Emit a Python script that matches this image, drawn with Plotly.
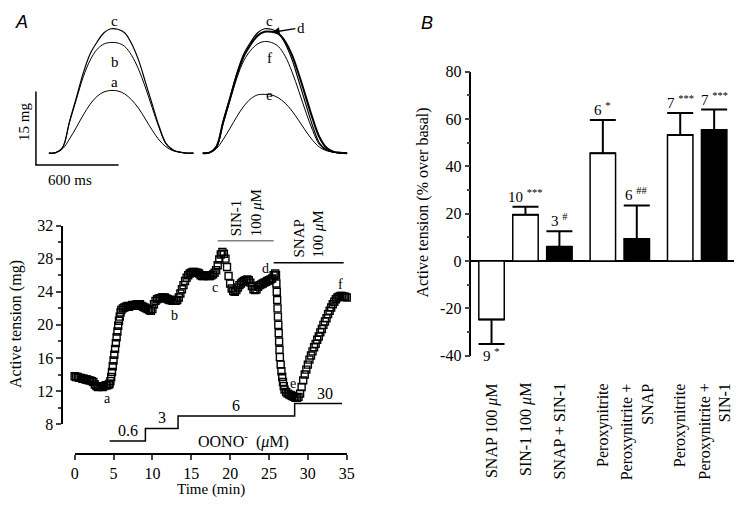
import plotly.graph_objects as go

# The page adds an 8 px body margin; the figure is sized so the whole page is 750x512.
PAGE_W, PAGE_H, OFF = 750, 512, 8
W, H = PAGE_W - 2 * OFF, PAGE_H - 2 * OFF
SERIF = "Liberation Serif"

# ---------------- data: panel A, time course ----------------
time_min = [0.0, 0.2, 0.4, 0.6, 0.8, 1.0, 1.2, 1.4, 1.6, 1.8, 2.0, 2.2, 2.4, 2.6, 2.8, 3.0, 3.2, 3.4, 3.6, 3.8,
            4.0, 4.2, 4.4,
            4.5, 4.6, 4.7, 4.8, 4.9, 5.0, 5.1, 5.2, 5.3, 5.4, 5.5, 5.6, 5.7, 5.8, 5.9, 6.0,
            6.2, 6.4, 6.6, 6.8, 7.0, 7.2, 7.4, 7.6, 7.8, 8.0, 8.2, 8.4, 8.6, 8.8, 9.0, 9.2, 9.4, 9.6, 9.8,
            10.0, 10.2, 10.4, 10.6, 10.8, 11.0, 11.2, 11.4, 11.6, 11.8, 12.0, 12.2, 12.4, 12.6, 12.8,
            13.0, 13.2, 13.4, 13.6, 13.8, 14.0, 14.2, 14.4, 14.6, 14.8, 15.0, 15.2, 15.4, 15.6, 15.8,
            16.0, 16.2, 16.4, 16.6, 16.8, 17.0, 17.2, 17.4, 17.6, 17.8, 18.0, 18.2, 18.4, 18.6, 18.8,
            19.0, 19.2, 19.4, 19.6, 19.8, 20.0, 20.2, 20.4, 20.6, 20.8, 21.0, 21.2, 21.4, 21.6, 21.8,
            22.0, 22.2, 22.4, 22.6, 22.8, 23.0, 23.2, 23.4, 23.6, 23.8, 24.0, 24.2, 24.4, 24.6, 24.8,
            25.0, 25.2, 25.4, 25.6, 25.8,
            25.9, 25.95, 26.0, 26.05, 26.1, 26.15, 26.2, 26.25, 26.3, 26.35, 26.4, 26.5, 26.6, 26.7,
            26.8, 26.9, 27.0,
            27.2, 27.4, 27.6, 27.8, 28.0, 28.2, 28.4, 28.6, 28.8, 29.0, 29.2, 29.4, 29.6, 29.8,
            30.0, 30.2, 30.4, 30.6, 30.8, 31.0, 31.2, 31.4, 31.6, 31.8, 32.0, 32.2, 32.4, 32.6, 32.8,
            33.0, 33.2, 33.4, 33.6, 33.8, 34.0, 34.2, 34.4, 34.6, 34.8, 35.0]
tension_mg = [13.8, 13.7, 13.7, 13.6, 13.6, 13.5, 13.5, 13.4, 13.4, 13.3, 13.3, 13.2, 13.1, 12.8, 12.6, 12.5,
              12.6, 12.6, 12.5, 12.6, 12.7, 12.7, 12.8,
              12.9, 13.2, 13.7, 14.3, 15.0, 15.7, 16.4, 17.1, 17.8, 18.5, 19.2, 19.9, 20.5, 21.0, 21.5, 21.8,
              22.0, 22.1, 22.2, 22.3, 22.2, 22.3, 22.4, 22.3, 22.4, 22.5, 22.4, 22.5, 22.3, 22.2, 22.1, 22.0,
              21.9, 21.8, 21.7,
              21.9, 22.5, 22.9, 23.1, 23.2, 23.2, 23.3, 23.3, 23.3, 23.2, 23.1, 23.0, 23.0, 22.9, 22.9,
              22.9, 23.0, 23.3, 23.8, 24.3, 24.8, 25.3, 25.7, 26.0, 26.2, 26.3, 26.4, 26.4, 26.3, 26.3,
              26.2, 26.0, 25.9, 25.9, 26.0, 26.0, 25.9, 25.9, 26.0, 26.1, 26.3, 26.6, 27.2, 27.9, 28.5,
              28.8, 28.6, 28.0, 27.0, 25.9, 25.0, 24.4, 24.1, 24.0, 24.2, 24.5, 24.8, 25.0, 25.2, 25.3,
              25.4, 25.5, 25.4, 25.1, 24.7, 24.3, 24.2, 24.3, 24.6, 24.8, 24.9, 25.0, 25.1, 25.2, 25.3,
              25.4, 25.5, 25.6, 26.0, 26.2,
              26.0, 25.0, 24.0, 23.0, 22.0, 21.0, 20.0, 19.0, 18.0, 17.0, 16.1, 15.2, 14.4, 13.7,
              13.1, 12.6, 12.2,
              11.9, 11.7, 11.6, 11.5, 11.4, 11.3, 11.2, 11.2, 11.3, 11.7, 12.5, 13.3, 14.0, 14.6,
              15.2, 15.8, 16.3, 16.8, 17.3, 17.7, 18.2, 18.6, 19.1, 19.5, 20.0, 20.4, 20.8, 21.3, 21.7,
              22.1, 22.5, 22.8, 23.1, 23.3, 23.4, 23.5, 23.5, 23.4, 23.4, 23.3]

trace_letters = ["a", "b", "c", "d", "e", "f"]
letter_time = [4.2, 12.9, 18.1, 24.6, 28.05, 34.25]
letter_mg = [11.1, 21.1, 24.5, 26.8, 12.95, 24.9]

oono_conc = ["0.6", "3", "6", "30"]
oono_start_min = [4.5, 9.1, 13.3, 28.3]
oono_end_min = 34.4
sin1_period = [18.4, 25.6]
snap_period = [25.6, 34.6]

# ---------------- data: panel A, twitch records ----------------
twitch_ms = [0, 50, 100, 150, 200, 250, 300, 350, 400, 450, 500, 550, 600, 650, 700, 750, 800, 850, 900, 950, 1000, 1050]
twitch_a = [0, 0.1, 0.9, 2.9, 5.3, 7.8, 10.0, 11.6, 12.5, 12.8, 12.7, 12.1, 10.9, 9.2, 7.0, 4.7, 2.7, 1.3, 0.5, 0.2, 0, 0]
twitch_b = [0, 0.1, 1.2, 6.3, 11.0, 15.6, 19.0, 21.2, 22.3, 22.6, 22.5, 21.8, 20.0, 17.2, 13.5, 9.3, 5.2, 1.9, 0.6, 0.2, 0, 0]
twitch_c = [0, 0.1, 1.2, 6.5, 11.4, 16.4, 20.3, 22.7, 24.6, 25.4, 25.3, 24.6, 22.4, 19.1, 14.6, 10.0, 5.5, 2.0, 0.7, 0.2, 0, 0]
twitch_d = [0, 0.1, 1.3, 6.4, 11.2, 16.0, 19.8, 22.2, 24.0, 24.8, 24.8, 24.4, 22.8, 20.0, 16.0, 11.5, 7.0, 3.2, 1.1, 0.3, 0.1, 0]
twitch_e = [0, 0.1, 0.9, 2.8, 5.1, 7.5, 9.6, 11.1, 11.9, 12.0, 11.9, 11.3, 10.2, 8.6, 6.6, 4.5, 2.6, 1.2, 0.5, 0.2, 0, 0]
twitch_f = [0, 0.1, 1.1, 6.0, 10.8, 15.4, 18.9, 21.0, 22.3, 22.8, 22.6, 21.8, 19.8, 16.6, 12.6, 8.4, 4.6, 1.7, 0.6, 0.2, 0, 0]
scale_bar_mg = 15
scale_bar_ms = 600

# ---------------- data: panel B ----------------
bar_labels = ["SNAP 100 <i>μ</i>M", "SIN-1 100 <i>μ</i>M", "SNAP + SIN-1", "Peroxynitrite",
              "Peroxynitrite +<br>SNAP", "Peroxynitrite", "Peroxynitrite +<br>SIN-1"]
bar_mean = [-24.7, 19.5, 6.0, 45.5, 9.3, 53.3, 55.4]
bar_sem = [10.4, 3.4, 6.6, 14.1, 14.2, 9.3, 8.6]
bar_fill = ["white", "white", "black", "white", "black", "white", "black"]
bar_group = [0, 0, 0, 1, 1, 2, 2]
bar_note = ["9 <sup>*</sup>", "10 <sup>***</sup>", "3 <sup>#</sup>", "6 <sup>*</sup>",
            "6 <sup>##</sup>", "7 <sup>***</sup>", "7 <sup>***</sup>"]


def px(x):
    return min(1.0, max(0.0, (x - OFF) / W))


def py(y):
    return min(1.0, max(0.0, 1 - (y - OFF) / H))


bar_x = [i + 0.28 * g for i, g in enumerate(bar_group)]

fig = go.Figure()

# time course
fig.add_trace(go.Scatter(x=time_min, y=tension_mg, mode="markers", xaxis="x", yaxis="y",
                         marker=dict(symbol="square-open", size=7, color="black",
                                     line=dict(width=1.4, color="black")),
                         cliponaxis=False, hoverinfo="skip"))
# OONO- concentration steps
step_x = oono_start_min + [oono_end_min]
step_y = list(range(len(oono_conc))) + [len(oono_conc) - 1]
fig.add_trace(go.Scatter(x=step_x, y=step_y, mode="lines", line=dict(shape="hv", color="black", width=1.5),
                         xaxis="x", yaxis="y2", hoverinfo="skip"))

# twitches
for ys, ax, wdt in [(twitch_a, 3, 1), (twitch_b, 3, 1), (twitch_c, 3, 1.2),
                    (twitch_e, 4, 1), (twitch_f, 4, 1), (twitch_d, 4, 2), (twitch_c, 4, 1.2)]:
    fig.add_trace(go.Scatter(x=twitch_ms, y=ys, mode="lines", line=dict(color="black", width=wdt, shape="spline"),
                             xaxis="x%d" % ax, yaxis="y%d" % ax, hoverinfo="skip"))

# scale bar
sb_x0, sb_y0 = -94, -2.43
fig.add_trace(go.Scatter(x=[sb_x0, sb_x0, sb_x0 + scale_bar_ms], y=[sb_y0 + scale_bar_mg, sb_y0, sb_y0],
                         mode="lines", line=dict(color="black", width=1.5), xaxis="x3", yaxis="y3",
                         cliponaxis=False, hoverinfo="skip"))

# bars
fig.add_trace(go.Bar(x=bar_x, y=bar_mean, width=0.75, xaxis="x5", yaxis="y5",
                     marker=dict(color=bar_fill, line=dict(color="black", width=1.5)),
                     error_y=dict(type="data", symmetric=False,
                                  array=[s if m >= 0 else 0 for m, s in zip(bar_mean, bar_sem)],
                                  arrayminus=[s if m < 0 else 0 for m, s in zip(bar_mean, bar_sem)],
                                  color="black", thickness=2, width=13),
                     hoverinfo="skip"))

ann = []
tf = dict(family=SERIF, size=16, color="black")


def A(text, x, y, xref="paper", yref="paper", size=15, family=SERIF, **kw):
    d = dict(text=text, x=x, y=y, xref=xref, yref=yref, showarrow=False,
             xanchor="center", yanchor="middle",
             font=dict(family=family, size=size, color="black"))
    d.update(kw)
    ann.append(d)


# panel letters
A("<i>A</i>", px(18), py(14), size=18, family="Liberation Sans")
A("<i>B</i>", px(430), py(15), size=18, family="Liberation Sans")

# twitch labels
for t, xx, yy, a in [("c", 477, 27.0, 3), ("b", 477, 18.7, 3), ("a", 477, 14.5, 3),
                     ("c", 483, 27.0, 4), ("f", 483, 19.4, 4), ("e", 483, 11.8, 4)]:
    A(t, xx, yy, xref="x%d" % a, yref="y%d" % a, size=15)
ann.append(dict(text="d", x=505, y=24.7, xref="x4", yref="y4", ax=714, ay=25.6, axref="x4", ayref="y4",
                showarrow=True, arrowhead=2, arrowsize=1, arrowwidth=1.5, arrowcolor="black",
                font=dict(family=SERIF, size=15, color="black")))
A("15 mg", px(20), py(118), textangle=-90, size=15)
A("600 ms", px(67), py(178), size=15)

# time course labels
for t, xx, yy in zip(trace_letters, letter_time, letter_mg):
    A(t, xx, yy, xref="x", yref="y", size=14)
A("Active tension (mg)", px(12), py(327), textangle=-90, size=16)
A("Time (min)", px(210), py(498), size=15)
for i, c in enumerate(oono_conc):
    mid = (step_x[i] + step_x[i + 1]) / 2 if i < len(oono_conc) - 1 else (oono_start_min[i] + oono_end_min) / 2 + 0.9
    A(c, mid, i, xref="x", yref="y2", yanchor="bottom", size=16)
A("OONO<sup>-</sup>  (<i>μ</i>M)", 21.7, 0, xref="x", yref="y2", size=16)
A("SIN-1<br>100 <i>μ</i>M", (sin1_period[0] + sin1_period[1]) / 2, py(238), xref="x", yref="paper",
  textangle=-90, yanchor="bottom", align="left", size=15)
A("SNAP<br>100 <i>μ</i>M", (snap_period[0] + snap_period[1]) / 2, py(260), xref="x", yref="paper",
  textangle=-90, yanchor="bottom", align="left", size=15)

# panel B labels
A("Active tension (% over basal)", px(426), py(201), textangle=-90, size=16)
for xx, lab in zip(bar_x, bar_labels):
    A(lab, xx, py(386), xref="x5", yref="paper", textangle=-90, yanchor="top", align="right", size=16)
for xx, m, s, note in zip(bar_x, bar_mean, bar_sem, bar_note):
    if m >= 0:
        A(note, xx, m + s, xref="x5", yref="y5", yanchor="bottom", size=15)
    else:
        A(note, xx, m - s, xref="x5", yref="y5", yanchor="top", size=15)

shapes = [
    dict(type="line", xref="x", yref="y", x0=sin1_period[0], x1=sin1_period[1], y0=30.17, y1=30.17,
         line=dict(color="#808080", width=1.5)),
    dict(type="line", xref="x", yref="y", x0=snap_period[0], x1=snap_period[1], y0=27.5, y1=27.5,
         line=dict(color="black", width=1.5)),
]

hid = dict(visible=False, showgrid=False, zeroline=False)
fig.update_layout(
    width=W, height=H, margin=dict(l=0, r=0, t=0, b=0),
    paper_bgcolor="white", plot_bgcolor="rgba(0,0,0,0)", showlegend=False,
    xaxis=dict(domain=[px(71.7), px(348.3)], range=[0, 35], anchor="free", position=py(461.7),
               tickvals=[0, 5, 10, 15, 20, 25, 30, 35], ticks="outside", ticklen=5, tickwidth=1.5,
               showline=True, linewidth=1.5, linecolor="black", showgrid=False, zeroline=False,
               tickfont=tf),
    yaxis=dict(domain=[py(430.7), py(225)], range=[8, 32], anchor="free", position=px(59),
               tickvals=[8, 12, 16, 20, 24, 28, 32], ticks="outside", ticklen=5, tickwidth=1.5,
               minor=dict(tickvals=[10, 14, 18, 22, 26, 30], ticks="outside", ticklen=3, tickwidth=1.5),
               showline=True, linewidth=1.5, linecolor="black", showgrid=False, zeroline=False,
               tickfont=tf),
    yaxis2=dict(domain=[py(460), py(400)], range=[-0.930, 3.721], anchor="x", **hid),
    xaxis3=dict(domain=[px(30), px(196.7)], range=[-110.7, 1080], anchor="y3", **hid),
    yaxis3=dict(domain=[py(166), py(8)], range=[(150 - 166) / 5.07, (150 - 8) / 5.07], anchor="x3", **hid),
    xaxis4=dict(domain=[px(201.7), px(351.7)], range=[0, 1071.4], anchor="y4", **hid),
    yaxis4=dict(domain=[py(166), py(8)], range=[(150 - 166) / 5.07, (150 - 8) / 5.07], anchor="x4", **hid),
    xaxis5=dict(domain=[px(475), px(742)], range=[(475 - 495.5) / 34.5, (742 - 495.5) / 34.5], anchor="y5",
                visible=False, showgrid=False, zeroline=False),
    yaxis5=dict(domain=[py(359.7), py(65.7)], range=[-40, 80], anchor="x5",
                tickvals=[-40, -20, 0, 20, 40, 60, 80], ticktext=["-40", "-20", "0", "20", "40", "60", "80"],
                ticks="outside", ticklen=5, tickwidth=1.5,
                minor=dict(tickvals=[-30, -10, 10, 30, 50, 70], ticks="outside", ticklen=3, tickwidth=1.5),
                showline=True, linewidth=1.5, linecolor="black", showgrid=False,
                zeroline=True, zerolinecolor="black", zerolinewidth=1.5, tickfont=tf),
    annotations=ann, shapes=shapes,
)

fig.write_html("out.html")
